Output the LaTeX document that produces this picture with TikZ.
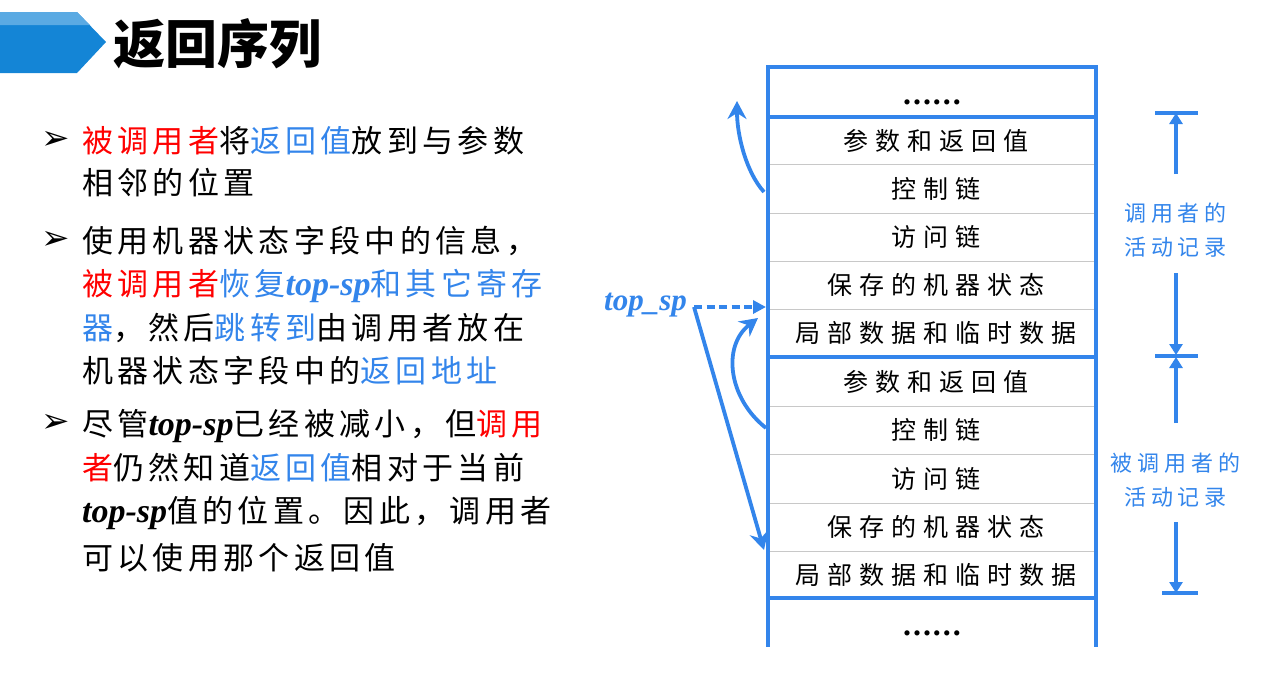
\documentclass[tikz,border=0pt]{standalone}
\usepackage{fontspec}
\setmainfont{Liberation Serif}
\newfontfamily\cjkbody[LetterSpace=14]{Noto Sans CJK SC}
\newfontfamily\cjktab[LetterSpace=28]{Noto Sans CJK SC}
\newfontfamily\cjklab[LetterSpace=22]{Noto Sans CJK SC}
\newfontfamily\cjkplain{Noto Sans CJK SC}
\newfontfamily\dejavu{DejaVu Sans}
\newfontfamily\dotfont[LetterSpace=6]{Liberation Serif}
\usetikzlibrary{arrows.meta}
\definecolor{tblue}{RGB}{51,133,235}
\definecolor{tred}{RGB}{255,0,0}
\definecolor{hblue}{RGB}{20,133,214}
\definecolor{hlight}{RGB}{90,170,227}
\definecolor{rulegray}{RGB}{200,200,200}
\newcommand\Rd[1]{\textcolor{tred}{#1}}
\newcommand\Bl[1]{\textcolor{tblue}{#1}}
\newcommand\tsp{{\fontsize{34}{34}\selectfont\rmfamily\bfseries\itshape top-sp}}
\begin{document}
\begin{tikzpicture}[x=1pt,y=-1pt,
  body/.style={anchor=base west, inner sep=0pt, font=\fontsize{31}{31}\selectfont\cjkbody},
  bullet/.style={inner sep=0pt, font=\fontsize{34}{34}\selectfont\dejavu},
  cell/.style={anchor=base, inner sep=0pt, xshift=3.5pt, font=\fontsize{25}{25}\selectfont\cjktab},
  dots/.style={anchor=base, inner sep=0pt, font=\fontsize{32}{32}\selectfont\dotfont\bfseries},
  lab/.style={inner sep=0pt, align=center, text=tblue, xshift=2.5pt, font=\fontsize{22}{34}\selectfont\cjklab},
  thickrule/.style={draw=tblue, line width=3.2pt},
  thinrule/.style={draw=rulegray, line width=0.8pt},
  curvearrow/.style={draw=tblue, line width=3.8pt, -{Stealth[length=18pt,width=19pt,inset=6pt]}},
  dimarrow/.style={draw=tblue, line width=3.4pt, -{Triangle[length=11pt,width=13pt]}},
  dimbar/.style={draw=tblue, line width=3.4pt}
]
\useasboundingbox (0,0) rectangle (1268,678);
% title
\fill[hblue] (0,12) -- (77,12) -- (106,42) -- (77,73) -- (0,73) -- cycle;
\fill[hlight] (0,12) -- (77,12) -- (90,25) -- (0,25) -- cycle;
\node[anchor=west, inner sep=0pt, font=\fontsize{52}{52}\selectfont\cjkplain\bfseries] (title) at (113,44) {返回序列};

% left text
\node[bullet] (b1) at (56,140) {➢};
\node[bullet] (b2) at (56,240) {➢};
\node[bullet] (b3) at (56,423) {➢};
\node[body] (l1) at (82,152) {\Rd{被调用者}将\Bl{返回值}放到与参数};
\node[body] (l2) at (82,194) {相邻的位置};
\node[body] (l3) at (82,252) {使用机器状态字段中的信息，};
\node[body] (l4) at (82,295) {\Rd{被调用者}\Bl{恢复\tsp 和其它寄存}};
\node[body] (l5) at (82,339) {\Bl{器}，然后\Bl{跳转到}由调用者放在};
\node[body] (l6) at (82,382) {机器状态字段中的\Bl{返回地址}};
\node[body] (l7) at (82,435) {尽管\tsp 已经被减小，但\Rd{调用}};
\node[body] (l8) at (82,479) {\Rd{者}仍然知道\Bl{返回值}相对于当前};
\node[body] (l9) at (82,522) {\tsp 值的位置。因此，调用者};
\node[body] (l10) at (82,569) {可以使用那个返回值};

% table rules
\foreach \yy in {164,213,261,309,406,454,503,551}
  \draw[thinrule] (768,\yy) -- (1096,\yy);
\foreach \yy in {67,117,357,598}
  \draw[thickrule] (766.4,\yy) -- (1097.6,\yy);
\draw[thickrule] (768,66) -- (768,647);
\draw[thickrule] (1096,66) -- (1096,647);

% table cells
\node[dots] (d1) at (932,104) {......};
\node[cell] (r1) at (932,150) {参数和返回值};
\node[cell] (r2) at (932,198) {控制链};
\node[cell] (r3) at (932,246.5) {访问链};
\node[cell] (r4) at (932,294.5) {保存的机器状态};
\node[cell] (r5) at (932,342.5) {局部数据和临时数据};
\node[cell] (s1) at (932,391) {参数和返回值};
\node[cell] (s2) at (932,439.5) {控制链};
\node[cell] (s3) at (932,488) {访问链};
\node[cell] (s4) at (932,536.5) {保存的机器状态};
\node[cell] (s5) at (932,584) {局部数据和临时数据};
\node[dots] (d2) at (932,635) {......};

% top_sp label and arrows
\node[anchor=base west, inner sep=0pt, text=tblue, font=\fontsize{31}{31}\selectfont\bfseries\itshape] (tsp) at (604,310) {top\_sp};
\coordinate (tspout) at (694,307);
\coordinate (tspin) at (766,307);
\coordinate (vend) at (764,550);
\draw[draw=tblue, line width=3.4pt, dash pattern=on 8pt off 4.5pt, -{Triangle[length=13pt,width=13pt]}] (tspout) -- (tspin);
\draw[curvearrow, line join=miter] (tspout) -- (vend);
\coordinate (c1s) at (766,428);
\coordinate (c1e) at (758,318);
\draw[curvearrow] (c1s) .. controls (728,398) and (722,346) .. (c1e);
\coordinate (c2s) at (764,192);
\coordinate (c2e) at (737,101);
\draw[curvearrow] (c2s) .. controls (746,172) and (737,135) .. (c2e);

% right dimension marks
\coordinate (bar1l) at (1155,113); \coordinate (bar1r) at (1198,113);
\coordinate (bar2l) at (1155,356); \coordinate (bar2r) at (1198,356);
\coordinate (bar3l) at (1162,593); \coordinate (bar3r) at (1198,593);
\draw[dimbar] (bar1l) -- (bar1r);
\draw[dimbar] (bar2l) -- (bar2r);
\draw[dimbar] (bar3l) -- (bar3r);
\node[lab] (caller) at (1173,230) {调用者的\\活动记录};
\node[lab] (callee) at (1173,480) {被调用者的\\活动记录};
\coordinate (a1s) at (1176,174); \coordinate (a1e) at (1176,113);
\coordinate (a2s) at (1176,273); \coordinate (a2e) at (1176,355);
\coordinate (a3s) at (1176,423); \coordinate (a3e) at (1176,357);
\coordinate (a4s) at (1176,522); \coordinate (a4e) at (1176,593);
\draw[dimarrow] (a1s) -- (a1e);
\draw[dimarrow] (a2s) -- (a2e);
\draw[dimarrow] (a3s) -- (a3e);
\draw[dimarrow] (a4s) -- (a4e);
\end{tikzpicture}
\end{document}
